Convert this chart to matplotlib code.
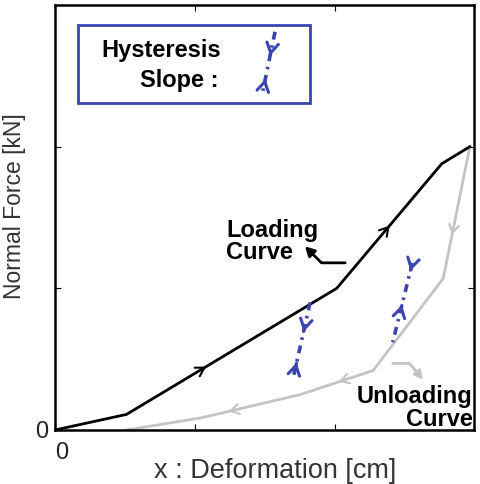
import numpy as np
import matplotlib.pyplot as plt
from matplotlib.patches import Rectangle

plt.rcParams['font.family'] = ['Liberation Sans', 'DejaVu Sans']

# loading / unloading curve (x in cm, force in kN, arbitrary units)
load_x = [0.0, 0.51, 2.01, 2.76, 2.96]
load_y = [0.0, 0.11, 1.00, 1.88, 2.00]
unload_x = [2.96, 2.77, 2.27, 1.75, 1.04, 0.51]
unload_y = [2.00, 1.07, 0.42, 0.25, 0.085, 0.0]

# hysteresis slopes (top, bottom)
hyst1_x = [1.82, 1.70]
hyst1_y = [0.90, 0.37]
hyst2_x = [2.55, 2.41]
hyst2_y = [1.18, 0.62]

blue = '#3a45b0'
grey = '#c4c4c4'
dashdot = (0, (2.2, 1.6, 0.7, 1.6))

fig = plt.figure(figsize=(4.8, 4.84), dpi=100)
ax = fig.add_axes([0.1146, 0.1116, 0.873, 0.878])


def arrow_on(xs, ys, seg, frac, color, rev=False, lw=1.5, size=12):
    x0, y0 = xs[seg], ys[seg]
    x1, y1 = xs[seg + 1], ys[seg + 1]
    px = x0 + frac * (x1 - x0)
    py = y0 + frac * (y1 - y0)
    dx, dy = (x1 - x0) * 0.02, (y1 - y0) * 0.02
    if rev:
        dx, dy = -dx, -dy
    ax.annotate('', xy=(px + dx, py + dy), xytext=(px - dx, py - dy),
                arrowprops=dict(arrowstyle='->,head_length=0.5,head_width=0.3',
                                color=color, lw=lw, mutation_scale=size))


ax.plot(unload_x, unload_y, color=grey, lw=2)
ax.plot(load_x, load_y, color='black', lw=2)
ax.plot(hyst1_x, hyst1_y, color=blue, lw=2.6, ls=dashdot)
ax.plot(hyst2_x, hyst2_y, color=blue, lw=2.6, ls=dashdot)

arrow_on(load_x, load_y, 1, 0.37, 'black')
arrow_on(load_x, load_y, 2, 0.5, 'black')
arrow_on(unload_x, unload_y, 0, 0.65, grey)
arrow_on(unload_x, unload_y, 2, 0.45, grey)
arrow_on(unload_x, unload_y, 3, 0.7, grey)

# hysteresis arrows: down near top, up near bottom
arrow_on(hyst1_x, hyst1_y, 0, 0.37, blue, lw=2.2, size=14)
arrow_on(hyst1_x, hyst1_y, 0, 0.82, blue, rev=True, lw=2.2, size=14)
arrow_on(hyst2_x, hyst2_y, 0, 0.08, blue, lw=2.2, size=14)
arrow_on(hyst2_x, hyst2_y, 0, 0.55, blue, rev=True, lw=2.2, size=14)

# annotations
ax.text(1.22, 1.33, 'Loading\nCurve', fontsize=17, fontweight='bold',
        ha='left', va='center', linespacing=0.95)
ax.annotate('', xy=(1.77, 1.31), xytext=(2.09, 1.18),
            arrowprops=dict(arrowstyle='-|>,head_length=0.55,head_width=0.3',
                            color='black', lw=2,
                            connectionstyle='angle,angleA=0,angleB=-45,rad=0'))
ax.text(2.98, 0.155, 'Unloading\nCurve', fontsize=17, fontweight='bold',
        ha='right', va='center', linespacing=0.95)
ax.annotate('', xy=(2.64, 0.34), xytext=(2.39, 0.47),
            arrowprops=dict(arrowstyle='-|>,head_length=0.5,head_width=0.25',
                            color=grey, lw=2,
                            connectionstyle='angle,angleA=0,angleB=-50,rad=0'))

# legend box
ax.add_patch(Rectangle((0.055, 0.769), 0.554, 0.184, transform=ax.transAxes,
                       fill=False, ec=blue, lw=2))
ax.text(0.395, 0.892, 'Hysteresis', transform=ax.transAxes, fontsize=17,
        fontweight='bold', ha='right', va='center')
ax.text(0.39, 0.822, 'Slope :', transform=ax.transAxes, fontsize=17,
        fontweight='bold', ha='right', va='center')
leg_x = [0.525, 0.494]
leg_y = [0.937, 0.788]
ax.plot(leg_x, leg_y, transform=ax.transAxes, color=blue, lw=2.6, ls=dashdot)
for f, d in [(0.37, 1), (0.75, -1)]:
    px = leg_x[0] + f * (leg_x[1] - leg_x[0])
    py = leg_y[0] + f * (leg_y[1] - leg_y[0])
    dx = (leg_x[1] - leg_x[0]) * 0.05 * d
    dy = (leg_y[1] - leg_y[0]) * 0.05 * d
    ax.annotate('', xy=(px + dx, py + dy), xytext=(px - dx, py - dy),
                xycoords='axes fraction', textcoords='axes fraction',
                arrowprops=dict(arrowstyle='->,head_length=0.5,head_width=0.3',
                                color=blue, lw=2.2, mutation_scale=14))

ax.set_xlim(0, 2.99)
ax.set_ylim(0, 3.0)
ax.set_xticks([0, 1, 2])
ax.set_xticklabels(['0', '', ''])
ax.set_yticks([0, 1, 2])
ax.set_yticklabels(['0', '', ''])
ax.tick_params(direction='in', length=4, labelsize=17, top=True, right=True,
               color='black', labelcolor='#222222')
ax.tick_params(axis='x', pad=9)
ax.tick_params(axis='y', pad=5)
for lab in ax.get_xticklabels():
    lab.set_horizontalalignment('left')
for s in ax.spines.values():
    s.set_linewidth(1.8)
ax.set_xlabel('x : Deformation [cm]', fontsize=19.5, color='#333333')
ax.set_ylabel('Normal Force [kN]', fontsize=16.5, color='#333333')
ax.xaxis.set_label_coords(0.525, -0.066)
ax.yaxis.set_label_coords(-0.07, 0.527)

fig.savefig('out.png', dpi=100)
